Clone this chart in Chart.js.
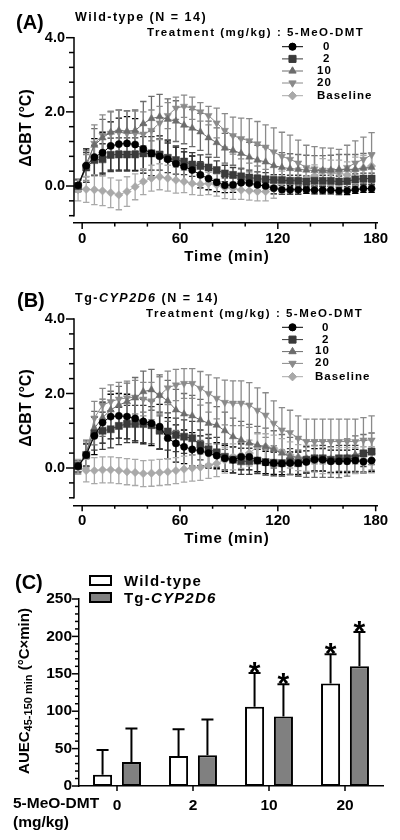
<!DOCTYPE html>
<html><head><meta charset="utf-8">
<script src="https://cdn.jsdelivr.net/npm/chart.js@4.4.1/dist/chart.umd.min.js"></script>
<style>
html,body{margin:0;padding:0;background:#fff;}
body{width:400px;height:840px;position:relative;overflow:hidden;font-family:"Liberation Sans",Arial,sans-serif;font-weight:bold;color:#000;}
.t{position:absolute;white-space:nowrap;line-height:1;}
.rot{position:absolute;white-space:nowrap;line-height:1;transform:translate(-50%,-50%) rotate(-90deg);}
.ctr{transform:translateX(-50%);}
.sp{letter-spacing:1.5px;}
.lg{letter-spacing:1px;}
canvas{position:absolute;left:0;}
.box{position:absolute;box-sizing:border-box;border:2px solid #000;}
sub{font-size:11px;vertical-align:-3px;line-height:1;}
</style></head><body>

<canvas id="cA" width="400" height="280" style="top:0px"></canvas>
<canvas id="cB" width="400" height="280" style="top:280px"></canvas>
<canvas id="cC" width="400" height="280" style="top:560px"></canvas>

<div class="t" style="left:16px;top:11.9px;font-size:20px">(A)</div>
<div class="t sp" style="left:75px;top:10.9px;font-size:12.5px">Wild-type (N = 14)</div>
<div class="t sp" style="left:147px;top:27.4px;font-size:11.5px">Treatment (mg/kg) : 5-MeO-DMT</div>
<div class="t lg" style="left:323px;top:41.1px;font-size:11.5px">0</div>
<div class="t lg" style="left:323px;top:53.1px;font-size:11.5px">2</div>
<div class="t lg" style="left:317px;top:65.1px;font-size:11.5px">10</div>
<div class="t lg" style="left:317px;top:76.7px;font-size:11.5px">20</div>
<div class="t lg" style="left:317px;top:90.1px;font-size:11.5px">Baseline</div>
<div class="rot" style="left:26px;top:127.5px;font-size:16px">ΔCBT (°C)</div>
<div class="t ctr lg" style="left:227px;top:247.6px;font-size:15px">Time (min)</div>

<div class="t" style="left:17px;top:290.2px;font-size:20px">(B)</div>
<div class="t sp" style="left:75px;top:292.2px;font-size:12.5px">Tg-<i>CYP2D6</i> (N = 14)</div>
<div class="t sp" style="left:146px;top:307.7px;font-size:11.5px">Treatment (mg/kg) : 5-MeO-DMT</div>
<div class="t lg" style="left:322px;top:321.7px;font-size:11.5px">0</div>
<div class="t lg" style="left:322px;top:333.7px;font-size:11.5px">2</div>
<div class="t lg" style="left:315px;top:345.4px;font-size:11.5px">10</div>
<div class="t lg" style="left:315px;top:357.1px;font-size:11.5px">20</div>
<div class="t lg" style="left:315px;top:371.1px;font-size:11.5px">Baseline</div>
<div class="rot" style="left:26px;top:408px;font-size:16px">ΔCBT (°C)</div>
<div class="t ctr lg" style="left:227px;top:529.6px;font-size:15px">Time (min)</div>

<div class="t" style="left:15px;top:571.9px;font-size:20px">(C)</div>
<div class="box" style="left:89px;top:575px;width:23px;height:10.5px;background:#fff"></div>
<div class="box" style="left:89px;top:592px;width:23px;height:10.5px;background:#808080"></div>
<div class="t" style="left:124px;top:572.6px;font-size:15px;letter-spacing:1.2px">Wild-type</div>
<div class="t" style="left:124px;top:589.6px;font-size:15px;letter-spacing:1.2px">Tg-<i>CYP2D6</i></div>
<div class="rot" style="left:25px;top:691px;font-size:15px">AUEC<sub>45-150 min</sub> (°C×min)</div>
<div class="t" style="left:13px;top:795.4px;font-size:15.5px">5-MeO-DMT</div>
<div class="t" style="left:13px;top:814.1px;font-size:15.5px">(mg/kg)</div>

<script>
// ---------- DATA ----------
const timeMin = [-2.5,2.5,7.5,12.5,17.5,22.5,27.5,32.5,37.5,42.5,47.5,52.5,57.5,62.5,67.5,72.5,77.5,82.5,87.5,92.5,97.5,102.5,107.5,112.5,117.5,122.5,127.5,132.5,137.5,142.5,147.5,152.5,157.5,162.5,167.5,172.5,177.5];
const timeTickLabels = [0,60,120,180];
const cbtTickLabels = [0,2,4];
const seriesNames = ['0','2','10','20','Baseline'];

// Wild-type (panel A), mean and SEM of ΔCBT (°C)
const wt0    = [0.02,0.55,0.78,0.9,1.08,1.13,1.15,1.12,1.0,0.88, 0.8,0.72,0.6,0.52,0.43,0.3,0.2,0.1,0.02,0.03, 0.09,0.08,0.03,0.0,-0.06,-0.1,-0.1,-0.1,-0.1,-0.11, -0.11,-0.11,-0.13,-0.13,-0.1,-0.07,-0.07];
const wt0Sem = [0.15,0.45,0.5,0.55,0.65,0.7,0.72,0.7,0.65,0.6, 0.55,0.5,0.45,0.4,0.38,0.35,0.3,0.25,0.2,0.2, 0.2,0.2,0.15,0.15,0.15,0.12,0.12,0.12,0.1,0.1, 0.1,0.1,0.1,0.1,0.1,0.1,0.1];
const wt2    = [0.0,0.5,0.7,0.72,0.84,0.85,0.85,0.85,0.88,0.88, 0.85,0.76,0.7,0.66,0.58,0.54,0.5,0.43,0.34,0.3, 0.26,0.23,0.2,0.18,0.16,0.16,0.14,0.14,0.12,0.14, 0.14,0.14,0.12,0.13,0.18,0.2,0.2];
const wt2Sem = [0.15,0.4,0.4,0.42,0.45,0.45,0.45,0.45,0.45,0.45, 0.42,0.4,0.38,0.35,0.32,0.3,0.28,0.25,0.22,0.2, 0.2,0.2,0.18,0.18,0.15,0.15,0.15,0.15,0.15,0.15, 0.15,0.15,0.15,0.15,0.15,0.15,0.15];
const wt10   = [0.0,0.6,1.1,1.3,1.45,1.5,1.48,1.5,1.68,1.82, 1.87,1.8,1.75,1.64,1.56,1.46,1.3,1.17,1.02,0.96, 0.88,0.78,0.7,0.65,0.55,0.5,0.47,0.45,0.43,0.42, 0.42,0.43,0.45,0.45,0.45,0.48,0.5];
const wt10Sem= [0.15,0.35,0.45,0.5,0.55,0.55,0.55,0.55,0.6,0.6, 0.6,0.55,0.55,0.5,0.5,0.5,0.45,0.4,0.4,0.4, 0.4,0.4,0.4,0.4,0.4,0.4,0.4,0.4,0.4,0.4, 0.4,0.4,0.4,0.4,0.4,0.4,0.4];
const wt20   = [0.0,0.5,1.15,1.37,1.42,1.45,1.42,1.42,1.4,1.5, 1.7,1.9,2.1,2.15,2.1,2.0,1.9,1.7,1.5,1.36, 1.28,1.22,1.14,1.05,0.92,0.8,0.72,0.62,0.5,0.46, 0.43,0.42,0.39,0.5,0.62,0.72,0.84];
const wt20Sem= [0.15,0.35,0.5,0.55,0.6,0.6,0.6,0.6,0.6,0.55, 0.45,0.35,0.3,0.3,0.3,0.25,0.25,0.4,0.45,0.5, 0.55,0.6,0.6,0.6,0.65,0.65,0.65,0.62,0.6,0.6, 0.6,0.6,0.6,0.6,0.6,0.6,0.6];
const wtBase = [-0.1,-0.09,-0.1,-0.13,-0.18,-0.24,-0.15,-0.02,0.12,0.21, 0.25,0.21,0.16,0.12,0.07,0.05,0.07,0.03,-0.04,-0.06, -0.11,-0.13,-0.15,-0.15,-0.03,0.1,0.16,0.18,0.2,0.27, 0.39,0.35,0.35,0.3,0.43,0.48,0.54];
const wtBaseSem=[0.3,0.35,0.4,0.4,0.4,0.4,0.4,0.35,0.35,0.35, 0.35,0.35,0.35,0.3,0.3,0.3,0.3,0.3,0.3,0.3, 0.25,0.25,0.25,0.25,0.3,0.3,0.3,0.3,0.3,0.3, 0.35,0.35,0.35,0.35,0.35,0.35,0.35];

// Tg-CYP2D6 (panel B)
const tg0    = [0.05,0.35,0.86,1.22,1.38,1.4,1.38,1.33,1.25,1.2, 1.11,0.8,0.66,0.57,0.5,0.46,0.4,0.33,0.26,0.22, 0.3,0.3,0.2,0.15,0.13,0.12,0.13,0.13,0.16,0.22, 0.22,0.18,0.18,0.18,0.2,0.17,0.2];
const tg0Sem = [0.15,0.3,0.5,0.55,0.6,0.6,0.6,0.6,0.6,0.6, 0.6,0.55,0.5,0.45,0.45,0.4,0.4,0.35,0.35,0.35, 0.35,0.35,0.3,0.3,0.3,0.3,0.3,0.3,0.3,0.3, 0.3,0.3,0.3,0.3,0.3,0.3,0.3];
const tg2    = [0.05,0.35,0.93,1.0,1.04,1.13,1.18,1.18,1.18,1.15, 1.0,0.98,0.89,0.84,0.8,0.62,0.5,0.42,0.3,0.22, 0.18,0.18,0.2,0.16,0.14,0.13,0.17,0.13,0.22,0.26, 0.26,0.22,0.26,0.26,0.26,0.39,0.44];
const tg2Sem = [0.15,0.3,0.45,0.5,0.5,0.5,0.5,0.5,0.5,0.5, 0.5,0.5,0.45,0.45,0.45,0.4,0.4,0.4,0.35,0.35, 0.35,0.35,0.35,0.35,0.35,0.35,0.35,0.35,0.35,0.35, 0.35,0.35,0.35,0.35,0.35,0.35,0.35];
const tg10   = [0.05,0.4,1.07,1.35,1.56,1.69,1.78,1.88,2.05,2.1, 1.95,1.8,1.56,1.45,1.4,1.29,1.2,1.15,1.0,0.84, 0.75,0.67,0.62,0.57,0.5,0.4,0.32,0.28,0.25,0.25, 0.25,0.25,0.24,0.28,0.36,0.4,0.44];
const tg10Sem= [0.15,0.35,0.45,0.5,0.5,0.5,0.5,0.55,0.55,0.55, 0.55,0.55,0.55,0.55,0.55,0.55,0.55,0.5,0.5,0.5, 0.5,0.5,0.5,0.5,0.5,0.5,0.5,0.5,0.5,0.5, 0.5,0.5,0.5,0.5,0.5,0.5,0.5];
const tg20   = [0.0,0.35,1.34,1.69,1.78,1.85,1.88,1.9,1.85,1.8, 1.95,2.15,2.23,2.27,2.27,2.14,2.0,1.87,1.76,1.74, 1.74,1.69,1.55,1.42,1.2,1.02,0.95,0.8,0.71,0.71, 0.71,0.71,0.71,0.71,0.71,0.75,0.75];
const tg20Sem= [0.15,0.35,0.45,0.45,0.45,0.45,0.45,0.45,0.45,0.5, 0.5,0.45,0.42,0.4,0.4,0.45,0.5,0.55,0.6,0.6, 0.6,0.6,0.6,0.6,0.6,0.6,0.6,0.6,0.6,0.6, 0.6,0.6,0.6,0.6,0.6,0.6,0.65];
const tgBase = [0.03,-0.07,-0.07,-0.05,-0.05,-0.07,-0.1,-0.12,-0.15,-0.14, -0.12,-0.1,-0.07,-0.03,0.0,0.02,0.07,0.12,0.21,0.3, 0.34,0.4,0.57,0.57,0.53,0.44,0.35,0.28,0.26,0.24, 0.2,0.2,0.2,0.2,0.2,0.22,0.22];
const tgBaseSem=[0.2,0.3,0.35,0.35,0.35,0.35,0.35,0.35,0.35,0.35, 0.35,0.35,0.35,0.35,0.35,0.35,0.35,0.35,0.35,0.35, 0.35,0.35,0.35,0.35,0.35,0.35,0.35,0.35,0.35,0.35, 0.35,0.35,0.35,0.35,0.35,0.35,0.35];

// Panel C: AUEC 45-150 min
const doseCategories = ['0','2','10','20'];
const aucTickLabels = [0,50,100,150,200,250];
const aucWT    = [15,40,106,137];
const aucWTSem = [33,36,45,39];
const aucWTSig = [false,false,true,true];
const aucTg    = [32,41,93,160];
const aucTgSem = [45,48,43,46];
const aucTgSig = [false,false,true,true];

// ---------- STYLE ----------
const seriesColors = ['#000000','#3a3a3a','#6c6c6c','#8a8a8a','#a9a9a9'];
const pointStyles = ['circle','rect','triangle','triangle','rectRot'];
const pointRots = [0,0,0,180,0];
const pointRadii = [3.6,5,4.2,4.2,4.2];

Chart.defaults.font.family = "'Liberation Sans', Arial, sans-serif";
Chart.defaults.font.weight = 'bold';
Chart.defaults.color = '#000';

const errorBars = {
  id:'errorBars',
  beforeDatasetsDraw(chart, args, opts){
    if (opts.mode !== 'both') return;
    draw(chart, opts);
  },
  afterDatasetsDraw(chart, args, opts){
    if (opts.mode !== 'up') return;
    draw(chart, opts);
  }
};
function draw(chart, opts){
  const ctx = chart.ctx, ys = chart.scales.y;
  chart.data.datasets.forEach((ds,i)=>{
    if(!ds.sem) return;
    const meta = chart.getDatasetMeta(i);
    ctx.save();
    ctx.strokeStyle = opts.color || ds.borderColor;
    ctx.lineWidth = opts.lineWidth;
    meta.data.forEach((el,j)=>{
      const raw = ds.data[j];
      const v = (typeof raw === 'object') ? raw.y : raw;
      const e = ds.sem[j];
      const x = el.x;
      const yT = ys.getPixelForValue(v + e);
      const yB = opts.mode === 'up' ? ys.getPixelForValue(v) : ys.getPixelForValue(v - e);
      ctx.beginPath();
      ctx.moveTo(x, yB); ctx.lineTo(x, yT);
      ctx.moveTo(x - opts.cap, yT); ctx.lineTo(x + opts.cap, yT);
      if (opts.mode !== 'up') { ctx.moveTo(x - opts.cap, yB); ctx.lineTo(x + opts.cap, yB); }
      ctx.stroke();
      if (ds.sig && ds.sig[j]) {
        ctx.fillStyle = '#000';
        ctx.font = "bold 30px 'Liberation Sans', Arial, sans-serif";
        ctx.textAlign = 'center';
        ctx.textBaseline = 'alphabetic';
        ctx.fillText('*', x, yT - 7.5 + 16.5);
      }
    });
    ctx.restore();
  });
}

// tick marks (major/minor) and, where asked, a GraphPad-style axis line spanning first..last tick
const tickMarks = {
  id:'tickMarks',
  afterDraw(chart){
    const ctx = chart.ctx;
    Object.values(chart.scales).forEach(s=>{
      const o = s.options.tickMarks; if(!o) return;
      ctx.save(); ctx.strokeStyle = '#000'; ctx.lineWidth = o.width;
      if (o.line) {
        const p0 = s.getPixelForTick(0), p1 = s.getPixelForTick(s.ticks.length - 1);
        ctx.beginPath();
        if (s.isHorizontal()) { ctx.moveTo(p0, s.top); ctx.lineTo(p1, s.top); }
        else { ctx.moveTo(s.right, p0 + 0.75); ctx.lineTo(s.right, p1 - 0.75); }
        ctx.stroke();
      }
      s.ticks.forEach((t,i)=>{
        const len = (t.label !== '' && t.label != null) ? o.major : o.minor;
        const p = s.getPixelForTick(i);
        ctx.beginPath();
        if (s.isHorizontal()) { ctx.moveTo(p, s.top); ctx.lineTo(p, s.top + len); }
        else { ctx.moveTo(s.right, p); ctx.lineTo(s.right - len, p); }
        ctx.stroke();
      });
      ctx.restore();
    });
  }
};

const markerLegend = {
  id:'markerLegend',
  afterDraw(chart, args, opts){
    if(!opts.rows) return;
    const ctx = chart.ctx;
    chart.data.datasets.forEach((ds,i)=>{
      const y = opts.rows[i];
      ctx.save();
      ctx.strokeStyle = ds.borderColor; ctx.lineWidth = 1;
      ctx.beginPath(); ctx.moveTo(opts.x1, y); ctx.lineTo(opts.x2, y); ctx.stroke();
      ctx.fillStyle = ds.backgroundColor; ctx.strokeStyle = ds.borderColor;
      Chart.helpers.drawPoint(ctx, {pointStyle: ds.pointStyle, rotation: ds.pointRotation, radius: ds.pointRadius, borderWidth: 0.5}, (opts.x1+opts.x2)/2, y);
      ctx.restore();
    });
  }
};

function lineSets(means, sems){
  return seriesNames.map((n,i)=>({
    label: n,
    data: timeMin.map((t,j)=>({x:t, y:means[i][j]})),
    sem: sems[i],
    borderColor: seriesColors[i], backgroundColor: seriesColors[i],
    borderWidth: 1, pointStyle: pointStyles[i], pointRotation: pointRots[i],
    pointRadius: pointRadii[i], pointBorderWidth: 0.5, tension: 0
  }));
}

function timeChart(id, means, sems, padTop, padBottom, legendRows){
  return new Chart(document.getElementById(id), {
    type:'line',
    data:{datasets: lineSets(means, sems)},
    options:{
      responsive:false, animation:false, devicePixelRatio:1,
      layout:{padding:{left:14, right:22.7, top:padTop, bottom:padBottom}},
      plugins:{legend:{display:false}, tooltip:{enabled:false},
        errorBars:{mode:'both', lineWidth:1.3, cap:3.2},
        markerLegend:{x1:282, x2:303, rows: legendRows}},
      scales:{
        x:{type:'linear', min:-5, max:181,
          afterBuildTicks: s => { s.ticks = [0,20,40,60,80,100,120,140,160,180].map(v=>({value:v})); },
          afterFit: s => { s.height = 30; },
          grid:{display:false, drawTicks:false}, border:{display:true, color:'#000', width:1.5},
          tickMarks:{major:6, minor:3.5, width:1.5},
          ticks:{autoSkip:false, maxRotation:0, padding:7, font:{size:15, weight:'bold'},
            callback: v => timeTickLabels.includes(v) ? String(v) : ''}},
        y:{type:'linear', min:-1, max:4,
          afterBuildTicks: s => { s.ticks = [-0.8,-0.4,0,0.4,0.8,1.2,1.6,2.0,2.4,2.8,3.2,3.6,4.0].map(v=>({value:v})); },
          afterFit: s => { s.width = 60; },
          grid:{display:false, drawTicks:false}, border:{display:false},
          tickMarks:{major:8, minor:5, width:1.5, line:true},
          ticks:{autoSkip:false, padding:9, font:{size:14.5, weight:'bold'},
            callback: v => cbtTickLabels.some(c => Math.abs(c - v) < 1e-6) ? v.toFixed(1) : ''}}
      }
    },
    plugins:[errorBars, tickMarks, markerLegend]
  });
}

timeChart('cA', [wt0,wt2,wt10,wt20,wtBase], [wt0Sem,wt2Sem,wt10Sem,wt20Sem,wtBaseSem], 37.7, 26.9, [46.7,58.9,71.0,83.0,95.7]);
timeChart('cB', [tg0,tg2,tg10,tg20,tgBase], [tg0Sem,tg2Sem,tg10Sem,tg20Sem,tgBaseSem], 39, 24.75, [47.3,59.6,71.6,83.4,96.7]);

new Chart(document.getElementById('cC'), {
  type:'bar',
  data:{labels: doseCategories, datasets:[
    {label:'Wild-type', data: aucWT, sem: aucWTSem, sig: aucWTSig, backgroundColor:'#ffffff', borderColor:'#000', borderWidth:2, borderSkipped:false, categoryPercentage:0.76, barPercentage:0.66},
    {label:'Tg-CYP2D6', data: aucTg, sem: aucTgSem, sig: aucTgSig, backgroundColor:'#808080', borderColor:'#000', borderWidth:2, borderSkipped:false, categoryPercentage:0.76, barPercentage:0.66}
  ]},
  options:{
    responsive:false, animation:false, devicePixelRatio:1,
    layout:{padding:{left:19, right:17, top:39, bottom:24}},
    plugins:{legend:{display:false}, tooltip:{enabled:false},
      errorBars:{mode:'up', lineWidth:2, cap:6, color:'#000'}},
    scales:{
      x:{type:'category', offset:true,
        afterFit: s => { s.height = 30; },
        grid:{display:false, offset:false, drawTicks:false}, border:{display:true, color:'#000', width:1.5},
        tickMarks:{major:5, minor:5, width:1.5},
        ticks:{padding:10, font:{size:15.5, weight:'bold'}}},
      y:{type:'linear', min:0, max:250,
        afterBuildTicks: s => { const a=[]; for(let v=0; v<=250; v+=10) a.push({value:v}); s.ticks = a; },
        afterFit: s => { s.width = 60; },
        grid:{display:false, drawTicks:false}, border:{display:true, color:'#000', width:1.5},
        tickMarks:{major:7, minor:4, width:1.5},
        ticks:{autoSkip:false, padding:7, font:{size:15.5, weight:'bold'},
          callback: v => aucTickLabels.includes(v) ? String(v) : ''}}
    }
  },
  plugins:[errorBars, tickMarks]
});
</script>
</body></html>
